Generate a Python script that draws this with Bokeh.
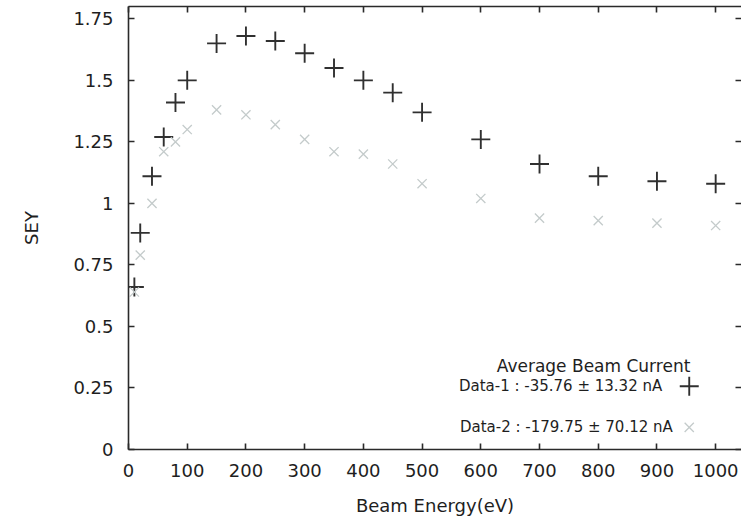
from bokeh.plotting import figure
from bokeh.models import LinearAxis, FixedTicker, Label, Range1d
from bokeh.embed import file_html
from bokeh.resources import INLINE

# ---- data ----
energy = [10, 20, 40, 60, 80, 100, 150, 200, 250, 300, 350, 400, 450, 500, 600, 700, 800, 900, 1000]
sey_data1 = [0.66, 0.88, 1.11, 1.27, 1.41, 1.50, 1.65, 1.68, 1.66, 1.61, 1.55, 1.50, 1.45, 1.37, 1.26, 1.16, 1.11, 1.09, 1.08]
sey_data2 = [0.64, 0.79, 1.00, 1.21, 1.25, 1.30, 1.38, 1.36, 1.32, 1.26, 1.21, 1.20, 1.16, 1.08, 1.02, 0.94, 0.93, 0.92, 0.91]

x_ticks = [0, 100, 200, 300, 400, 500, 600, 700, 800, 900, 1000]
y_ticks = [0, 0.25, 0.5, 0.75, 1.0, 1.25, 1.5, 1.75]
y_tick_labels = ["0", "0.25", "0.5", "0.75", "1", "1.25", "1.5", "1.75"]

legend_title = "Average Beam Current"
legend_labels = ["Data-1 : -35.76 \u00b1 13.32 nA", "Data-2 : -179.75 \u00b1 70.12 nA"]

FONT = "DejaVu Sans"
TXT = "#1e1e1e"
C1 = "#303030"
C2 = "#c4cbcb"

p = figure(width=741, height=518, output_backend="svg", toolbar_location=None,
           x_range=Range1d(0, 1044), y_range=Range1d(0, 1.8),
           min_border_left=128, min_border_right=0, min_border_top=6, min_border_bottom=69)
p.outline_line_color = None
p.grid.visible = False
p.background_fill_color = "white"
p.border_fill_color = "white"

# main axes
xa = p.xaxis[0]
ya = p.yaxis[0]
xa.ticker = FixedTicker(ticks=x_ticks)
ya.ticker = FixedTicker(ticks=y_ticks)
ya.major_label_overrides = {t: s for t, s in zip(y_ticks, y_tick_labels)}
for ax in (xa, ya):
    ax.major_tick_in = 6
    ax.major_tick_out = 0
    ax.minor_tick_in = 0
    ax.minor_tick_out = 0
    ax.axis_line_color = "#2a2a2a"
    ax.axis_line_width = 1.6
    ax.major_tick_line_color = "#2a2a2a"
    ax.major_tick_line_width = 1.6
    ax.major_label_text_font = FONT
    ax.major_label_text_font_size = "18px"
    ax.major_label_text_color = TXT
    ax.axis_label_text_font = FONT
    ax.axis_label_text_font_size = "18px"
    ax.axis_label_text_font_style = "normal"
    ax.axis_label_text_color = TXT
xa.axis_label = "Beam Energy(eV)"
ya.axis_label = "SEY"
xa.major_label_standoff = 14
xa.axis_label_standoff = 15
ya.major_label_standoff = 15
ya.axis_label_standoff = 28

# mirrored axes (ticks only, no labels)
top = LinearAxis(ticker=FixedTicker(ticks=x_ticks))
right = LinearAxis(ticker=FixedTicker(ticks=y_ticks))
top.major_label_overrides = {t: "" for t in x_ticks}
right.major_label_overrides = {t: "" for t in y_ticks}
for ax, line in ((top, "#2a2a2a"), (right, None)):
    ax.major_tick_in = 6
    ax.major_tick_out = 0
    ax.minor_tick_in = 0
    ax.minor_tick_out = 0
    ax.axis_line_color = line
    ax.axis_line_width = 1.6
    ax.major_tick_line_color = "#2a2a2a"
    ax.major_tick_line_width = 1.6
    ax.major_label_standoff = 0
p.add_layout(top, "above")
p.add_layout(right, "right")

# data
p.scatter(energy, sey_data1, marker="cross", size=19, line_color=C1, line_width=1.9)
p.scatter(energy, sey_data2, marker="x", size=13, line_color=C2, line_width=1.3)

# legend (gnuplot style: text right aligned, symbol to the right)
p.add_layout(Label(x=792, y=0.339, text=legend_title, text_align="center", text_baseline="middle",
                   text_font=FONT, text_font_size="17px", text_color=TXT))
key_y = [0.257, 0.09]
key_right = [909, 927]
for lab, ky, kr in zip(legend_labels, key_y, key_right):
    p.add_layout(Label(x=kr, y=ky, text=lab, text_align="right", text_baseline="middle",
                       text_font=FONT, text_font_size="15px", text_color=TXT))
p.scatter([955], [key_y[0]], marker="cross", size=19, line_color=C1, line_width=1.9)
p.scatter([955], [key_y[1]], marker="x", size=13, line_color=C2, line_width=1.3)

open("out.html", "w").write(file_html(p, INLINE))
